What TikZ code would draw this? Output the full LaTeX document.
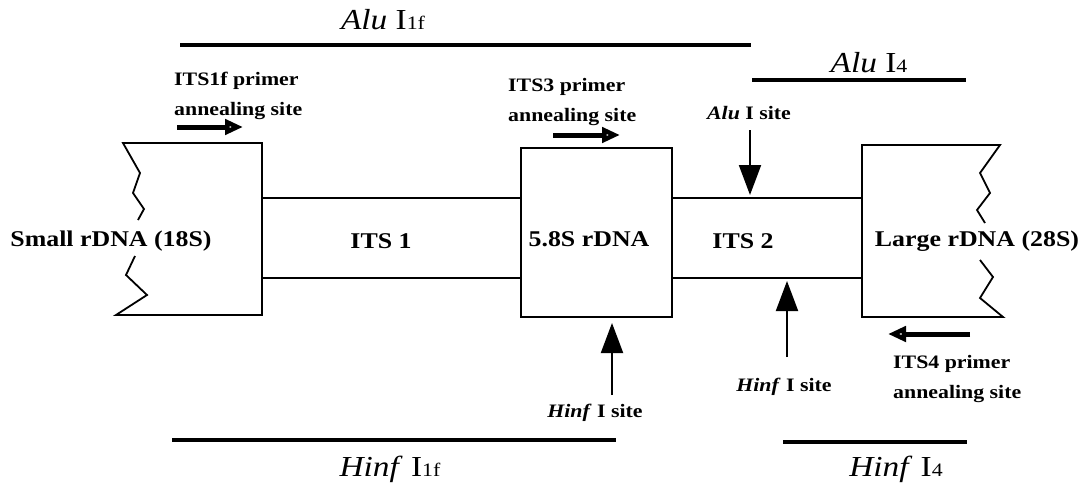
\documentclass[tikz,border=0pt]{standalone}
\usepackage{fontspec}
\setmainfont{Liberation Serif}[FakeStretch=1.15]
\usetikzlibrary{arrows.meta}

\begin{document}
\begin{tikzpicture}[x=1pt,y=-1pt,
  lbl/.style={font=\fontsize{22.5}{24}\selectfont\bfseries,inner sep=0pt},
  small/.style={font=\fontsize{19}{30}\selectfont\bfseries,inner sep=0pt,align=left},
  title/.style={font=\fontsize{29}{30}\selectfont,inner sep=0pt},
  bar/.style={line width=3.6pt},
  wall/.style={line width=1.8pt,line join=miter},
  strand/.style={line width=1.1pt},
  primer/.style={line width=5pt,-{Triangle[open,length=18pt,width=15pt]}},
  site/.style={line width=2pt,-{Triangle[length=30pt,width=22pt]}}]
\useasboundingbox (0,0) rectangle (1090,487);
% flanking rDNA blocks
\draw[wall] (138,220) -- (144,209) -- (133,193) -- (140,173) -- (123,143) -- (262,143)
  -- (262,315) -- (116,315) -- (147,295) -- (126,275) -- (135,256);
\draw[wall] (985,223) -- (977,210) -- (990,193) -- (980,173) -- (1000,145) -- (862,145)
  -- (862,317) -- (1003,317) -- (980,298) -- (993,277) -- (980,260);
\node[draw,wall,minimum width=151pt,minimum height=169pt,inner sep=0pt] (rdna) at (596.5,232.5) {};
% spacers
\coordinate (its1a) at (262,198); \coordinate (its1b) at (262,278);
\coordinate (its2a) at (862,198); \coordinate (its2b) at (862,278);
\draw[strand] (its1a) -- (rdna.west |- its1a);
\draw[strand] (its1b) -- (rdna.west |- its1b);
\draw[strand] (rdna.east |- its2a) -- (its2a);
\draw[strand] (rdna.east |- its2b) -- (its2b);
\node[lbl] (small) at (111,241) {Small rDNA (18S)};
\node[lbl] (its1) at (381,241) {ITS 1};
\node[lbl] (rdnatxt) at (589,239) {5.8S rDNA};
\node[lbl] (its2) at (743,241) {ITS 2};
\node[lbl] (large) at (977,241) {Large rDNA (28S)};
% primers
\node[small,anchor=north west] (p1f) at (174,72) {ITS1f primer\\annealing site};
\draw[primer] (177,127) -- (243,127);
\node[small,anchor=north west] (p3) at (508,78) {ITS3 primer\\annealing site};
\draw[primer] (553,135) -- (620,135);
\node[small,anchor=north west] (p4) at (893,355) {ITS4 primer\\annealing site};
\draw[primer] (970,334) -- (888,334);
% restriction sites
\node[small] (alusite) at (749,113) {\textit{Alu} I site};
\coordinate (alucut) at (750,195);
\draw[site] (750,130) -- (alucut);
\node[small] (hinf1) at (595,413) {\textit{Hinf} I site};
\coordinate (hinfcut1) at (612,323);
\draw[site] (612,395) -- (hinfcut1);
\node[small] (hinf2) at (784,387) {\textit{Hinf} I site};
\coordinate (hinfcut2) at (787,281);
\draw[site] (787,357) -- (hinfcut2);
% fragments
\draw[bar] (180,45) -- (751,45);
\node[title] (alu1f) at (383,20) {\textit{Alu} I{\fontsize{19}{20}\selectfont 1f}};
\draw[bar] (752,80) -- (966,80);
\node[title] (alu4) at (869,63) {\textit{Alu} I{\fontsize{19}{20}\selectfont 4}};
\draw[bar] (172,440) -- (616,440);
\node[title] (hinf1f) at (390,469) {\textit{Hinf} I{\fontsize{19}{20}\selectfont 1f}};
\draw[bar] (783,442) -- (967,442);
\node[title] (hinf4) at (896,469) {\textit{Hinf} I{\fontsize{19}{20}\selectfont 4}};
\end{tikzpicture}
\end{document}
